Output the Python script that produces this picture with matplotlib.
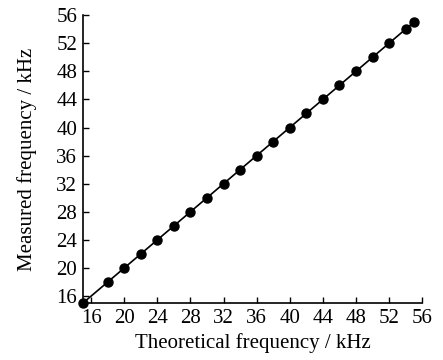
import numpy as np
import matplotlib.pyplot as plt

plt.rcParams['font.family'] = ['Liberation Serif', 'DejaVu Serif']

theoretical = [15, 18, 20, 22, 24, 26, 28, 30, 32, 34, 36, 38, 40, 42, 44, 46, 48, 50, 52, 54, 55]
measured = [15, 18, 20, 22, 24, 26, 28, 30, 32, 34, 36, 38, 40, 42, 44, 46, 48, 50, 52, 54, 55]
ticks = [16, 20, 24, 28, 32, 36, 40, 44, 48, 52, 56]

fig = plt.figure(figsize=(4.43, 3.6), dpi=100)
ax = fig.add_axes([0.187, 0.158, 0.766, 0.800])

ax.plot(theoretical, measured, color='k', linewidth=1.2, marker='o',
        markersize=6.5, markerfacecolor='k', markeredgecolor='k', clip_on=False)

ax.set_xlim(15, 56)
ax.set_ylim(15, 56)
ax.set_xticks(ticks)
ax.set_yticks(ticks)
ax.tick_params(direction='in', length=4, width=1, labelsize=15, pad=4)
ax.spines['top'].set_visible(False)
ax.spines['right'].set_visible(False)
ax.spines['left'].set_linewidth(1.2)
ax.spines['bottom'].set_linewidth(1.2)

ax.set_xlabel('Theoretical frequency / kHz', fontsize=15, labelpad=4)
ax.set_ylabel('Measured frequency / kHz', fontsize=15, labelpad=14)

fig.savefig('out.png', dpi=100)
